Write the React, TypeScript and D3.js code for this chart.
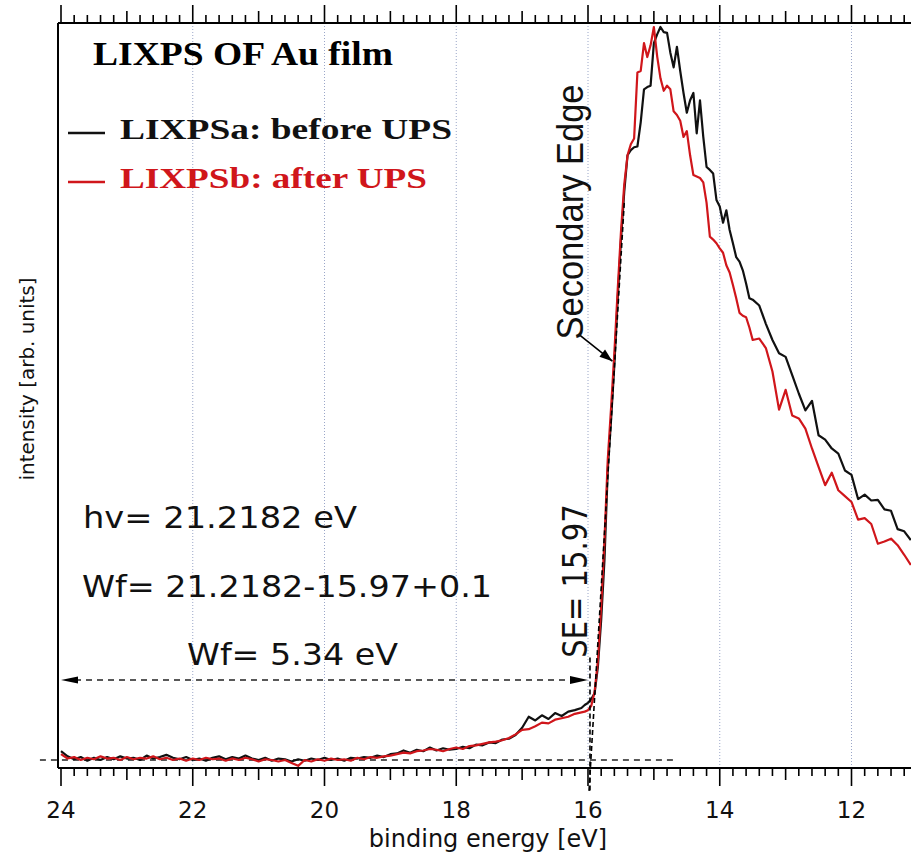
import React from "react";
import * as d3 from "d3";

// ---------- DATA ----------
const energyLow = [
  24.0, 23.9, 23.8, 23.7, 23.6, 23.5, 23.4, 23.3, 23.2, 23.1,
  23.0, 22.9, 22.8, 22.7, 22.6, 22.5, 22.4, 22.3, 22.2, 22.1,
  22.0, 21.9, 21.8, 21.7, 21.6, 21.5, 21.4, 21.3, 21.2, 21.1,
  21.0, 20.9, 20.8, 20.7, 20.6, 20.5, 20.4, 20.3, 20.2, 20.1,
  20.0, 19.9, 19.8, 19.7, 19.6, 19.5, 19.4, 19.3, 19.2, 19.1,
  19.0, 18.9, 18.8, 18.7, 18.6, 18.5, 18.4, 18.3, 18.2, 18.1,
  18.0, 17.9, 17.8, 17.7, 17.6, 17.5, 17.4, 17.3, 17.2, 17.1,
  17.0, 16.9, 16.8, 16.7, 16.6, 16.5, 16.4, 16.3, 16.2, 16.1,
];
const energyEdge = [
  16.05, 16.0, 15.95, 15.9, 15.85, 15.8, 15.75, 15.7, 15.65, 15.6,
  15.55, 15.5, 15.45, 15.4, 15.35, 15.3, 15.25, 15.2, 15.15, 15.1,
  15.05, 15.0, 14.95, 14.9, 14.85, 14.8, 14.75, 14.7, 14.65, 14.6,
  14.55, 14.5, 14.45, 14.4, 14.35, 14.3, 14.25, 14.2, 14.15, 14.1,
  14.05, 14.0, 13.95, 13.9, 13.85, 13.8, 13.75, 13.7, 13.65, 13.6,
  13.55, 13.5,
];
const energyHigh = [
  13.4, 13.3, 13.2, 13.1, 13.0, 12.9, 12.8, 12.7, 12.6, 12.5,
  12.4, 12.3, 12.2, 12.1, 12.0, 11.9, 11.8, 11.7, 11.6, 11.5,
  11.4, 11.3, 11.2, 11.1,
];

// LIXPSa: before UPS (black)
const beforeLow = [
  1.2, 0.5, 0.1, 0.4, -0.1, 0.3, 0.0, 0.4, 0.1, 0.5,
  0.2, 0.3, 0.0, 0.6, 0.2, 0.4, 0.7, 0.3, 0.1, 0.4,
  0.0, 0.2, -0.1, 0.3, 0.5, 0.1, 0.4, 0.2, 0.6, 0.2,
  0.0, 0.3, -0.1, 0.2, 0.1, -0.2, 0.1, -0.1, 0.2, 0.0,
  0.3, 0.0, 0.2, -0.1, 0.3, 0.2, 0.4, 0.3, 0.6, 0.4,
  0.8, 0.9, 1.3, 1.0, 1.4, 1.2, 1.7, 1.3, 1.6, 1.4,
  1.5, 1.8, 1.6, 2.1, 2.0, 2.4, 2.3, 2.8, 2.9, 3.4,
  4.4, 5.9, 5.4, 6.1, 5.6, 6.4, 6.0, 6.6, 6.8, 7.1,
];
const beforeEdge = [
  7.5, 7.8, 8.3, 9.1, 12.7, 19.1, 27.3, 39.6, 46.4, 53.9,
  62.8, 70.9, 77.5, 82.5, 83.2, 83.6, 83.7, 87.0, 91.5, 91.8,
  92.0, 97.8, 99.0, 100.0, 99.3, 99.2, 96.5, 94.5, 97.3, 94.0,
  91.0, 88.3, 90.0, 91.0, 85.5, 90.0, 85.0, 80.9, 80.5, 80.0,
  76.4, 75.5, 73.3, 75.0, 72.3, 70.5, 68.6, 68.0, 66.8, 65.0,
  63.0, 62.8,
];
const beforeHigh = [
  62.0, 59.5, 57.3, 55.5, 55.0, 52.5, 50.0, 47.7, 49.0, 44.3,
  43.7, 42.5, 41.8, 39.5, 38.9, 35.6, 36.2, 35.4, 35.5, 34.2,
  34.0, 31.5, 31.2, 30.0,
];

// LIXPSb: after UPS (red)
const afterLow = [
  0.8, 0.2, 0.4, 0.0, 0.3, 0.1, 0.5, 0.2, 0.3, 0.0,
  0.4, 0.1, 0.3, 0.2, 0.5, 0.1, 0.3, 0.0, 0.2, -0.1,
  0.2, 0.0, 0.3, 0.1, 0.2, -0.1, 0.2, 0.0, 0.3, 0.1,
  -0.2, 0.1, 0.0, -0.2, 0.0, -0.4, -0.8, 0.0, -0.2, 0.1,
  -0.1, 0.2, 0.0, 0.1, -0.1, 0.3, 0.1, 0.4, 0.3, 0.5,
  0.6, 0.8, 1.0, 0.9, 1.2, 1.3, 1.5, 1.4, 1.2, 1.5,
  1.7, 1.5, 1.9, 2.0, 2.2, 2.4, 2.5, 2.7, 3.0, 3.5,
  4.1, 4.2, 4.6, 5.1, 5.0, 5.5, 5.7, 5.9, 6.3, 6.5,
];
const afterEdge = [
  6.6, 6.8, 7.4, 9.3, 13.5, 21.0, 30.0, 41.0, 48.0, 55.5,
  64.0, 72.0, 78.5, 82.5, 84.0, 84.8, 93.8, 94.0, 97.8, 95.9,
  97.5, 100.0, 96.0, 93.0, 91.3, 92.0, 91.5, 88.5, 88.0, 87.2,
  85.0, 85.8, 82.5, 79.8, 79.6, 79.4, 78.8, 76.0, 71.4, 71.0,
  70.5, 69.8, 69.2, 67.5, 66.5, 64.8, 63.0, 61.0, 60.6, 60.4,
  59.0, 57.3,
];
const afterHigh = [
  57.5, 56.2, 53.0, 47.8, 50.5, 47.0, 46.6, 45.2, 42.5, 40.0,
  37.5, 39.2, 36.8, 36.0, 35.2, 32.8, 33.0, 32.2, 29.5, 29.8,
  30.2, 29.3, 28.0, 26.6,
];

const majorTicks = [24, 22, 20, 18, 16, 14, 12];
const tickLabels = ["24", "22", "20", "18", "16", "14", "12"];
const gridTicks = [22, 20, 18, 16, 14, 12];

const seriesNames = ["LIXPSa: before UPS", "LIXPSb: after UPS"];
const seriesColors = ["#111111", "#d0161b"];

// annotation values
const secondaryEdge = 15.97;
const workFunctionY = 10.9;
const tangentTop = [15.45, 76];
const tangentBottom = [15.985, -4.3];
const edgeArrowTail = [16.13, 58.0];
const edgeArrowTip = [15.63, 54.4];

// ---------- LAYOUT ----------
const W = 911;
const H = 860;
const plotLeft = 58;
const plotRight = 911;
const plotTop = 23;
const plotBottom = 768;

export default function App() {
  const x = d3.scaleLinear().domain([24, 16]).range([61, 588]);
  const y = d3.scaleLinear().domain([0, 100]).range([760, 27]);

  const energy = [...energyLow, ...energyEdge, ...energyHigh];
  const before = [...beforeLow, ...beforeEdge, ...beforeHigh];
  const after = [...afterLow, ...afterEdge, ...afterHigh];

  const line = d3
    .line<[number, number]>()
    .x((d) => x(d[0]))
    .y((d) => y(d[1]));

  const pathBefore = line(energy.map((e, i) => [e, before[i]]) as [number, number][]) || "";
  const pathAfter = line(energy.map((e, i) => [e, after[i]]) as [number, number][]) || "";

  // ticks every 0.2 eV
  const minor = d3.range(0, 66).map((i) => Math.round((24 - i * 0.2) * 10) / 10).filter((v) => x(v) <= plotRight);

  const tickLen = (v: number) => {
    if (Math.abs(v % 2) < 1e-6) return 18;
    if (Math.abs(v % 1) < 1e-6) return 12;
    return 8;
  };

  const sans = "'DejaVu Sans', Verdana, sans-serif";
  const serif = "'Liberation Serif', 'Times New Roman', serif";

  const wfY = y(workFunctionY);
  const xL = x(24);
  const xR = x(16);

  const ax = x(edgeArrowTail[0]);
  const ay = y(edgeArrowTail[1]);
  const bx = x(edgeArrowTip[0]);
  const by = y(edgeArrowTip[1]);
  const ang = Math.atan2(by - ay, bx - ax);
  const ahL = 13;
  const ahW = 4.5;
  const arrowHead = [
    [bx, by],
    [bx - ahL * Math.cos(ang) + ahW * Math.sin(ang), by - ahL * Math.sin(ang) - ahW * Math.cos(ang)],
    [bx - ahL * Math.cos(ang) - ahW * Math.sin(ang), by - ahL * Math.sin(ang) + ahW * Math.cos(ang)],
  ]
    .map((p) => p.join(","))
    .join(" ");

  return (
    <svg
      width={W}
      height={H}
      style={{ position: "absolute", left: 0, top: 0, background: "#fff" }}
    >
      <defs>
        <clipPath id="plotClip">
          <rect x={plotLeft} y={plotTop - 2} width={plotRight - plotLeft} height={plotBottom - plotTop + 2} />
        </clipPath>
      </defs>
      <rect x={0} y={0} width={W} height={H} fill="#fff" />

      {/* grid */}
      {gridTicks.map((t) => (
        <line
          key={"g" + t}
          x1={x(t)}
          x2={x(t)}
          y1={plotTop}
          y2={plotBottom}
          stroke="#9aa6c8"
          strokeWidth={1}
          strokeDasharray="1,2"
        />
      ))}

      {/* baseline dashed */}
      <line
        x1={x(24.32)}
        x2={x(14.65)}
        y1={y(0)}
        y2={y(0)}
        stroke="#222"
        strokeWidth={1.5}
        strokeDasharray="6,5"
      />

      {/* curves */}
      <g clipPath="url(#plotClip)">
        <path d={pathBefore} fill="none" stroke={seriesColors[0]} strokeWidth={2.2} strokeLinejoin="round" />
        <path d={pathAfter} fill="none" stroke={seriesColors[1]} strokeWidth={2.2} strokeLinejoin="round" />
      </g>

      {/* tangent line */}
      <line
        x1={x(tangentTop[0])}
        y1={y(tangentTop[1])}
        x2={x(tangentBottom[0])}
        y2={y(tangentBottom[1])}
        stroke="#000"
        strokeWidth={1.6}
        strokeDasharray="5,3"
      />
      {/* vertical SE line */}
      <line
        x1={x(secondaryEdge)}
        x2={x(secondaryEdge)}
        y1={y(14)}
        y2={y(-4.3)}
        stroke="#000"
        strokeWidth={1.6}
        strokeDasharray="5,3"
      />

      {/* Wf double arrow */}
      <line x1={xL + 14} x2={xR - 16} y1={wfY} y2={wfY} stroke="#222" strokeWidth={1.5} strokeDasharray="6,5" />
      <polygon points={`${xL},${wfY} ${xL + 17},${wfY - 3.5} ${xL + 17},${wfY + 3.5}`} fill="#000" />
      <polygon points={`${xR},${wfY} ${xR - 18},${wfY - 4} ${xR - 18},${wfY + 4}`} fill="#000" />

      {/* secondary edge arrow */}
      <line x1={ax} y1={ay} x2={bx} y2={by} stroke="#000" strokeWidth={1.6} />
      <polygon points={arrowHead} fill="#000" />

      {/* axes */}
      <line x1={plotLeft} x2={plotRight} y1={plotTop} y2={plotTop} stroke="#000" strokeWidth={2} />
      <line x1={plotLeft} x2={plotRight} y1={plotBottom} y2={plotBottom} stroke="#000" strokeWidth={2} />
      <line x1={plotLeft} x2={plotLeft} y1={plotTop} y2={plotBottom} stroke="#000" strokeWidth={2} />
      {minor.map((v) => (
        <g key={"t" + v}>
          <line x1={x(v)} x2={x(v)} y1={plotBottom} y2={plotBottom + tickLen(v)} stroke="#000" strokeWidth={1.6} />
          <line x1={x(v)} x2={x(v)} y1={plotTop} y2={plotTop - tickLen(v)} stroke="#000" strokeWidth={1.6} />
        </g>
      ))}
      {majorTicks.map((t, i) => (
        <text
          key={"l" + t}
          x={x(t)}
          y={818}
          textAnchor="middle"
          fontFamily={sans}
          fontSize={23}
          fill="#111"
        >
          {tickLabels[i]}
        </text>
      ))}

      {/* axis titles */}
      <text x={488} y={847} textAnchor="middle" fontFamily={sans} fontSize={24} fill="#111">
        binding energy [eV]
      </text>
      <text
        transform="translate(34,379) rotate(-90)"
        textAnchor="middle"
        fontFamily={sans}
        fontSize={20}
        fill="#111"
        textLength={203}
        lengthAdjust="spacingAndGlyphs"
      >
        intensity [arb. units]
      </text>

      {/* title + legend */}
      <text x={93} y={65} fontFamily={serif} fontWeight="bold" fontSize={33} fill="#000" textLength={300} lengthAdjust="spacingAndGlyphs">
        LIXPS OF Au film
      </text>
      <line x1={68} x2={105} y1={133} y2={133} stroke={seriesColors[0]} strokeWidth={2.5} />
      <text x={120} y={139} fontFamily={serif} fontWeight="bold" fontSize={30} fill={seriesColors[0]} textLength={332} lengthAdjust="spacingAndGlyphs">
        {seriesNames[0]}
      </text>
      <line x1={68} x2={105} y1={182} y2={182} stroke={seriesColors[1]} strokeWidth={2.5} />
      <text x={120} y={188} fontFamily={serif} fontWeight="bold" fontSize={30} fill={seriesColors[1]} textLength={307} lengthAdjust="spacingAndGlyphs">
        {seriesNames[1]}
      </text>

      {/* annotations */}
      <text x={83} y={528} fontFamily={sans} fontSize={31} fill="#111" textLength={274} lengthAdjust="spacingAndGlyphs">
        hv= 21.2182 eV
      </text>
      <text x={82} y={597} fontFamily={sans} fontSize={31} fill="#111" textLength={410} lengthAdjust="spacingAndGlyphs">
        Wf= 21.2182-15.97+0.1
      </text>
      <text x={187} y={665} fontFamily={sans} fontSize={31} fill="#111" textLength={211} lengthAdjust="spacingAndGlyphs">
        Wf= 5.34 eV
      </text>
      <text
        transform="translate(587,581) scale(1.15,1) rotate(-90)"
        textAnchor="middle"
        fontFamily={sans}
        fontSize={29}
        fill="#111"
      >
        SE= 15.97
      </text>
      <text
        transform="translate(583,212) scale(1.1,1) rotate(-90)"
        textAnchor="middle"
        fontFamily="'Liberation Sans', Arial, sans-serif"
        fontSize={34}
        fill="#111"
        textLength={255}
        lengthAdjust="spacingAndGlyphs"
      >
        Secondary Edge
      </text>
    </svg>
  );
}
